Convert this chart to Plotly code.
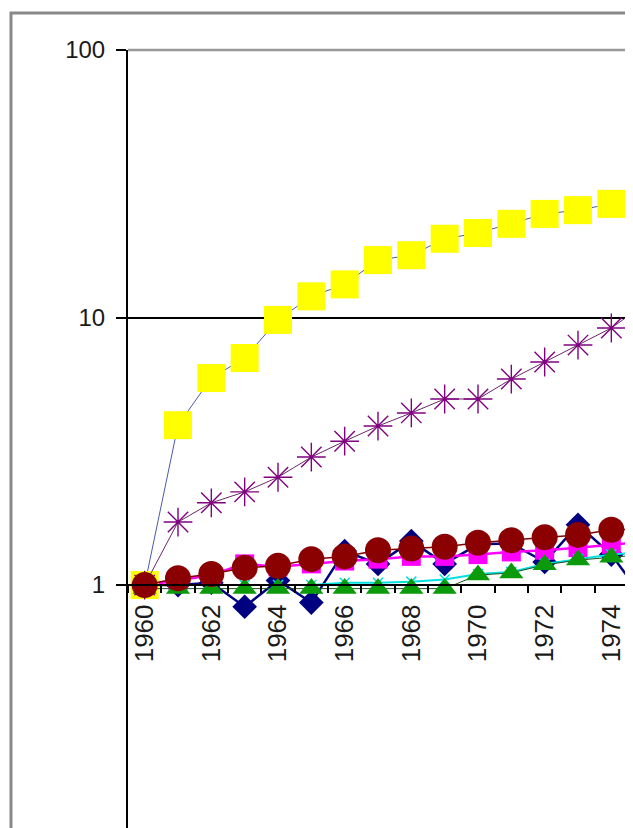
import math
import plotly.graph_objects as go

years = list(range(1960, 1976))
navy_vals = [1.0, 1.0, 1.02, 0.83, 1.04, 0.86, 1.34, 1.2, 1.46, 1.2, 1.42, 1.43, 1.22, 1.68, 1.3, 0.88]
magenta_vals = [1.0, 1.04, 1.09, 1.2, 1.17, 1.2, 1.23, 1.25, 1.28, 1.28, 1.3, 1.33, 1.35, 1.38, 1.42, 1.45]
yellow_vals = [1.0, 3.96, 5.94, 7.06, 9.8, 12.0, 13.3, 16.4, 17.1, 19.7, 20.7, 22.4, 24.4, 25.2, 26.6, 28.7]
cyan_vals = [1.0, 1.0, 1.0, 1.0, 1.0, 1.0, 1.02, 1.02, 1.03, 1.05, 1.1, 1.12, 1.2, 1.25, 1.3, 1.33]
green_vals = [0.97, 0.97, 0.97, 0.97, 0.97, 0.97, 0.97, 0.97, 0.97, 0.97, 1.09, 1.11, 1.19, 1.24, 1.27, 1.3]
purple_vals = [1.0, 1.72, 2.03, 2.23, 2.53, 3.01, 3.45, 3.93, 4.40, 4.96, 4.96, 5.89, 6.82, 7.89, 9.14, 11.2]
maroon_vals = [1.0, 1.06, 1.10, 1.16, 1.18, 1.25, 1.28, 1.35, 1.37, 1.39, 1.44, 1.47, 1.51, 1.54, 1.61, 1.62]

label_years = [1960, 1962, 1964, 1966, 1968, 1970, 1972, 1974]
y_ticks = [1, 10, 100]

# page body has an 8px margin; figure sized so the plot area lands where the reference has it
OFF = 8
W, H = 633 - OFF, 828 - OFF
ML, MR, MT, MB = 128 - OFF, 0, 50 - OFF, 0
YLOG_RANGE = [-0.908, 2.0]
X_RANGE = [1959.5, 1974.65]

fig = go.Figure()

def add(vals, name, line_color, line_width, symbol, msize, mcolor, mline_color=None, mline_width=0):
    fig.add_trace(go.Scatter(
        x=years, y=vals, name=name, mode="lines+markers",
        line=dict(color=line_color, width=line_width),
        marker=dict(symbol=symbol, size=msize, color=mcolor,
                    line=dict(color=mline_color or mcolor, width=mline_width)),
    ))

add(navy_vals, "S1", "#000080", 2.5, "diamond", 19, "#000080")
add(magenta_vals, "S2", "#ff00ff", 2.5, "square", 19, "#ff00ff")
add(yellow_vals, "S3", "#4a5aa8", 1, "square", 28, "#ffff00")
add(cyan_vals, "S4", "#00e0e0", 2, "x-thin-open", 10, "#00e0e0", "#00e0e0", 1.5)
add(green_vals, "S5", "#205020", 1, "triangle-up", 21, "#0a9a0a")
add(purple_vals, "S6", "#6a2a6a", 1, "asterisk-open", 24, "#800080", "#800080", 1.4)
add(maroon_vals, "S7", "#800000", 1.5, "circle", 26, "#8b0000")

xpos = (0 - YLOG_RANGE[0]) / (YLOG_RANGE[1] - YLOG_RANGE[0])

fig.update_layout(
    width=W, height=H,
    margin=dict(l=ML, r=MR, t=MT, b=MB),
    paper_bgcolor="white", plot_bgcolor="white",
    showlegend=False,
    font=dict(family="Liberation Sans, Arial, sans-serif", color="#1a1a1a"),
    xaxis=dict(
        range=X_RANGE, anchor="free", position=xpos,
        showgrid=False, zeroline=False,
        showline=True, linecolor="black", linewidth=2,
        tickmode="array", tickvals=label_years, ticktext=[str(v) for v in label_years],
        ticks="", tickangle=-90, tickfont=dict(size=26),
        ticklabelstandoff=8,
        minor=dict(tickmode="array", tickvals=[y - 0.5 for y in years] + [years[-1] + 0.5],
                   ticks="outside", ticklen=7, tickwidth=1.5, tickcolor="black", showgrid=False),
    ),
    yaxis=dict(
        type="log", range=YLOG_RANGE,
        showline=True, linecolor="black", linewidth=2,
        showgrid=True, gridcolor="black", gridwidth=1.5,
        zeroline=False,
        tickmode="array", tickvals=y_ticks, ticktext=[str(v) for v in y_ticks],
        ticks="outside", ticklen=10, tickwidth=1.5, tickcolor="black",
        tickfont=dict(size=24), ticklabelstandoff=6,
    ),
)

pw = W - ML - MR
ph = H - MT - MB
def px_to_paper_x(px):
    return (px - ML) / pw
def px_to_paper_y(py):
    return (H - MB - py) / ph

# chart-area border (gray) and plot-area top line
fig.add_shape(type="rect", xref="paper", yref="paper",
              x0=px_to_paper_x(11 - OFF), x1=px_to_paper_x(W + 20),
              y0=px_to_paper_y(H + 20), y1=px_to_paper_y(13 - OFF),
              line=dict(color="#888888", width=3), fillcolor="rgba(0,0,0,0)", layer="above")
fig.add_shape(type="line", xref="paper", yref="paper",
              x0=0, x1=1, y0=1, y1=1,
              line=dict(color="#999999", width=2.5), layer="above")

fig.write_html("out.html")
